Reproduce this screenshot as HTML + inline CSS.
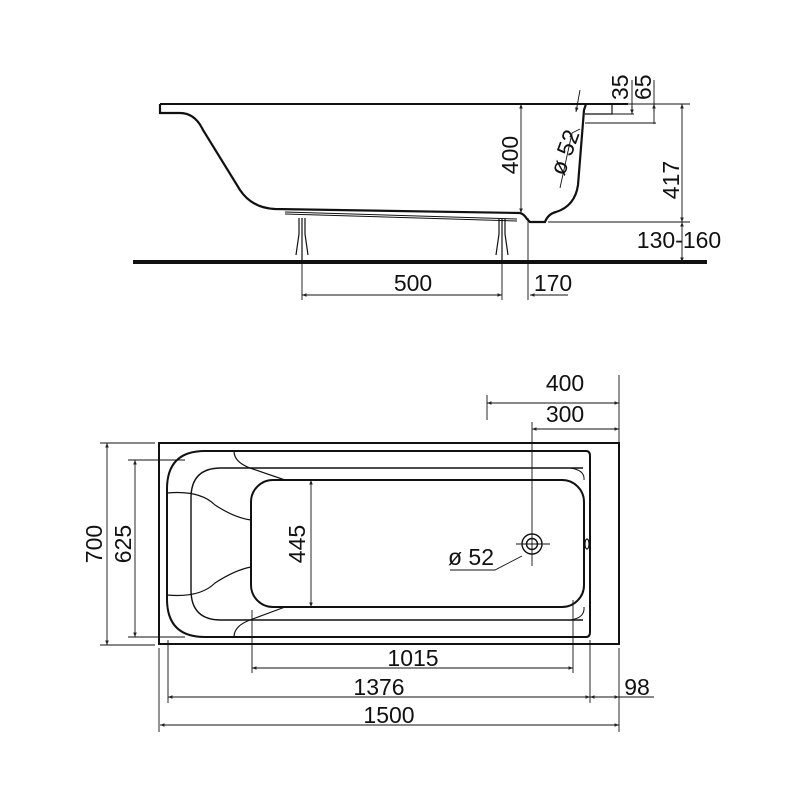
<!DOCTYPE html>
<html><head><style>
html,body{margin:0;padding:0;background:#fff;}
svg{display:block;}
text{font-family:"Liberation Sans",sans-serif;font-size:23px;fill:#111;}
</style></head><body>
<svg width="800" height="800" viewBox="0 0 800 800" xmlns="http://www.w3.org/2000/svg">
<defs>
<marker id="a" viewBox="0 0 10 10" refX="10" refY="5" markerWidth="5" markerHeight="5" orient="auto-start-reverse"><path d="M0,1 L10,5 L0,9 z" fill="#222"/></marker>
</defs>
<g fill="none" stroke="#111">
<!-- SIDE VIEW -->
<line x1="160" y1="104" x2="628" y2="104" stroke-width="2"/>
<path d="M160,104 L160,113 L180,113 Q195,113 203,130 L240,190 Q252,208 275,209 L520,213 Q524,214 527,219 L530,222 L545,222 Q548,214 556,212 Q575,206 578,185 L584,110 L586,104" stroke-width="2.2"/>
<path d="M612,104 L612,114 L585,114" stroke-width="1.2"/>
<line x1="285" y1="212" x2="517" y2="219" stroke-width="1"/>
<line x1="285" y1="214" x2="517" y2="221" stroke-width="1"/>
<path d="M299,218 L299,234 L296,255 M305,218 L305,234 L308,255 M302,218 L302,262" stroke-width="1.2"/>
<path d="M499,219 L499,234 L496,255 M505,219 L505,234 L508,255 M502,219 L502,262" stroke-width="1.2"/>
<line x1="133" y1="262" x2="707" y2="262" stroke-width="4"/>
<g stroke-width="0.9">
<line x1="521" y1="104" x2="521" y2="213" marker-start="url(#a)" marker-end="url(#a)"/>
<line x1="682" y1="104" x2="682" y2="222" marker-start="url(#a)" marker-end="url(#a)"/>
<line x1="548" y1="222" x2="690" y2="222"/>
<line x1="586" y1="104" x2="690" y2="104"/>
<line x1="682" y1="222" x2="682" y2="262" marker-start="url(#a)" marker-end="url(#a)"/>
<line x1="632" y1="80" x2="632" y2="114"/><line x1="632" y1="106" x2="632" y2="114" marker-end="url(#a)"/>
<line x1="654" y1="80" x2="654" y2="124"/><line x1="654" y1="112" x2="654" y2="104" marker-end="url(#a)"/>
<line x1="612" y1="114" x2="634" y2="114"/>
<line x1="585" y1="123" x2="656" y2="123"/>
<line x1="580" y1="90" x2="576" y2="112" marker-end="url(#a)"/>
<line x1="560" y1="188" x2="572" y2="133" marker-end="url(#a)"/><line x1="572" y1="133" x2="580" y2="129"/>
<line x1="302" y1="262" x2="302" y2="300"/>
<line x1="502" y1="262" x2="502" y2="300"/>
<line x1="528" y1="218" x2="528" y2="300"/>
<line x1="302" y1="295" x2="502" y2="295" marker-start="url(#a)" marker-end="url(#a)"/>
<line x1="530" y1="295" x2="568" y2="295" marker-start="url(#a)"/>
</g>

<!-- TOP VIEW -->
<rect x="159" y="443" width="460" height="201" stroke-width="2"/>
<path d="M205,451 L586,451 Q590,451 590,456 L590,632 Q590,637 586,637 L205,637 Q167,637 167,599 L167,489 Q167,451 205,451 Z" stroke-width="2"/>
<path d="M221,468 L583,468 M221,620 L583,620 M221,468 Q191,468 191,498 L191,590 Q191,620 221,620" stroke-width="1.4"/>
<rect x="251" y="480" width="333" height="127" rx="22" stroke-width="2"/>
<path d="M234,451 Q234,462 250,468 L285,480 M234,637 Q234,626 250,620 L285,607" stroke-width="1.2"/>
<path d="M570,468 Q585,470 584,480 M570,620 Q585,618 584,607" stroke-width="1"/>
<path d="M167,493 Q200,490 215,505 Q235,518 251,520 M167,595 Q200,598 215,583 Q235,570 251,567" stroke-width="1.2"/>
<circle cx="532" cy="544" r="10" stroke-width="1.4"/>
<circle cx="532" cy="544" r="5.5" stroke-width="1.4"/>
<ellipse cx="587" cy="544" rx="2" ry="5" stroke-width="1.2"/>
<g stroke-width="0.9">
<line x1="516" y1="544" x2="550" y2="544"/>
<line x1="532" y1="422" x2="532" y2="566"/>
<line x1="487" y1="395" x2="487" y2="420"/>
<line x1="619" y1="375" x2="619" y2="443"/>
<line x1="487" y1="403" x2="619" y2="403" marker-start="url(#a)" marker-end="url(#a)"/>
<line x1="532" y1="429" x2="619" y2="429" marker-start="url(#a)" marker-end="url(#a)"/>
<path d="M450,570 L495,570 L522,556"/>
<line x1="100" y1="443" x2="155" y2="443"/><line x1="100" y1="645" x2="155" y2="645"/>
<line x1="128" y1="460" x2="185" y2="460"/><line x1="128" y1="637" x2="185" y2="637"/>
<line x1="107" y1="443" x2="107" y2="645" marker-start="url(#a)" marker-end="url(#a)"/>
<line x1="135" y1="460" x2="135" y2="637" marker-start="url(#a)" marker-end="url(#a)"/>
<line x1="311" y1="480" x2="311" y2="607" marker-start="url(#a)" marker-end="url(#a)"/>
<line x1="159" y1="648" x2="159" y2="732"/><line x1="619" y1="648" x2="619" y2="732"/>
<line x1="168" y1="640" x2="168" y2="703"/><line x1="590" y1="640" x2="590" y2="703"/>
<line x1="252" y1="610" x2="252" y2="673"/><line x1="573" y1="600" x2="573" y2="673"/>
<line x1="252" y1="668" x2="573" y2="668" marker-start="url(#a)" marker-end="url(#a)"/>
<line x1="168" y1="697" x2="590" y2="697" marker-start="url(#a)" marker-end="url(#a)"/>
<line x1="590" y1="697" x2="619" y2="697" marker-start="url(#a)" marker-end="url(#a)"/>
<line x1="619" y1="697" x2="654" y2="697"/>
<line x1="160" y1="725" x2="619" y2="725" marker-start="url(#a)" marker-end="url(#a)"/>
</g>
</g>
<text x="413" y="291" text-anchor="middle">500</text>
<text x="553" y="291" text-anchor="middle">170</text>
<text x="679" y="248" text-anchor="middle">130-160</text>
<text transform="translate(518,155) rotate(-90)" text-anchor="middle">400</text>
<text transform="translate(679,180) rotate(-90)" text-anchor="middle">417</text>
<text transform="translate(572,155) rotate(-70)" text-anchor="middle">ø 52</text>
<text transform="translate(628,100) rotate(-90)" font-size="19">35</text>
<text transform="translate(651,100) rotate(-90)" font-size="19">65</text>
<text x="565" y="391" text-anchor="middle">400</text>
<text x="565" y="422" text-anchor="middle">300</text>
<text x="471" y="565" text-anchor="middle">ø 52</text>
<text transform="translate(102,544) rotate(-90)" text-anchor="middle">700</text>
<text transform="translate(131,544) rotate(-90)" text-anchor="middle">625</text>
<text transform="translate(305,544) rotate(-90)" text-anchor="middle">445</text>
<text x="413" y="666" text-anchor="middle">1015</text>
<text x="379" y="695" text-anchor="middle">1376</text>
<text x="637" y="695" text-anchor="middle">98</text>
<text x="389" y="723" text-anchor="middle">1500</text>
</svg>
</body></html>
